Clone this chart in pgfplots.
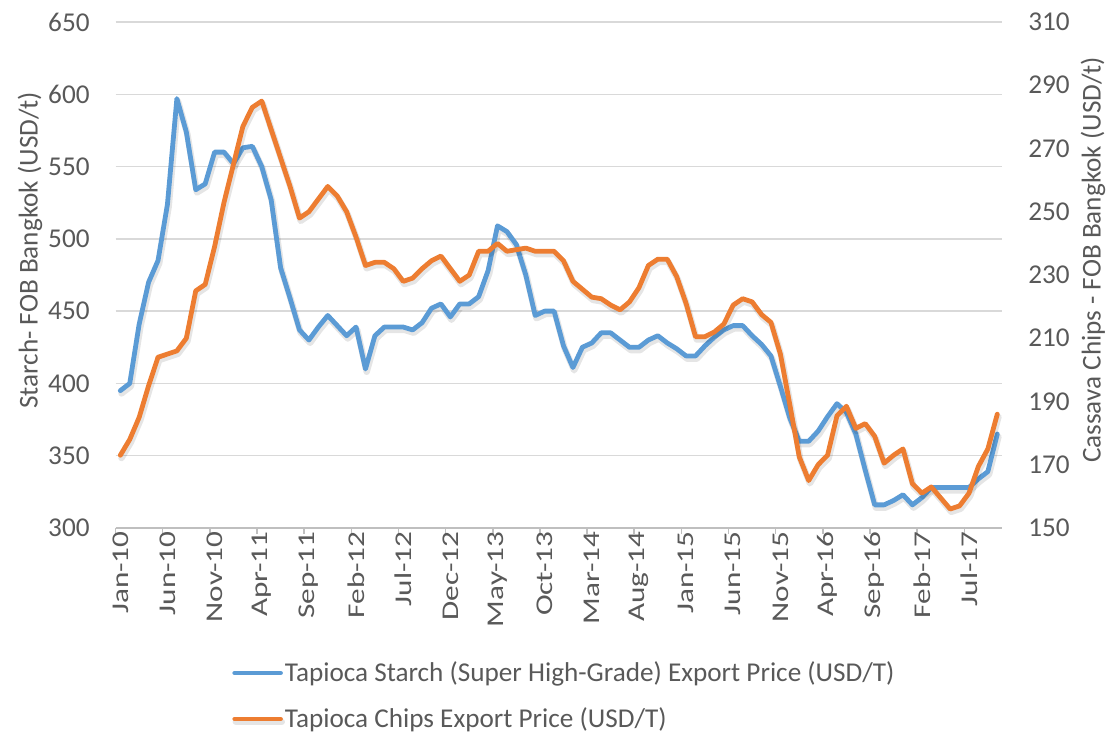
\documentclass[border=0pt]{standalone}
\usepackage{fontspec}
\setmainfont{Carlito}
\newfontfamily\xtickfont[FakeStretch=1.3]{Carlito}
\usepackage{pgfplots}
\usepackage{pgfplotstable}
\pgfplotsset{compat=1.18}
\definecolor{sblue}{HTML}{5B9BD5}
\definecolor{sorange}{HTML}{ED7D31}
\definecolor{txt}{HTML}{595959}
\definecolor{gridc}{HTML}{D9D9D9}
\definecolor{axc}{HTML}{BFBFBF}

\pgfplotstableread{
i starch chips
0 395 173
1 400 178
2 441 185
3 470 195
4 485 204
5 524 205
6 597 206
7 574 210
8 534 225
9 538 227
10 560 239
11 560 253
12 552 265
13 563 277
14 564 283
15 550 285
16 527 276
17 480 267
18 459 258
19 437 248
20 430 250
21 439 254
22 447 258
23 440 255
24 433 250
25 439 242
26 410 233
27 433 234
28 439 234
29 439 232
30 439 228
31 437 229
32 442 232
33 452 234.5
34 455 236
35 446 232
36 455 228
37 455 230
38 460 237.5
39 478 237.5
40 509 240
41 505 237.5
42 496 238
43 475 238.5
44 447 237.5
45 450 237.5
46 450 237.5
47 426 234.5
48 411 228
49 425 225.5
50 428 223
51 435 222.5
52 435 220.5
53 430 219
54 425 221.5
55 425 226
56 430 233
57 433 235
58 428 235
59 424 229.5
60 419 221
61 419 210.5
62 426 210.5
63 432 212
64 437 214.5
65 440 220.5
66 440 222.5
67 433 221.5
68 427 217.5
69 419 215
70 398 205
71 376 189
72 360 172.5
73 360 165
74 367 170
75 377 173
76 386 185.5
77 380 188.5
78 365 181.5
79 340 183
80 316 179
81 316 170.5
82 319 173
83 323 175
84 316 164
85 321 161
86 328 163
87 328 159.5
88 328 156
89 328 157
90 328 161
91 334 169.5
92 339 175
93 365 186
}\data

\pgfplotsset{
  base/.style={
    scale only axis, width=443.2bp, height=253bp,
    xmin=-0.5, xmax=93.5,
    font=\fontsize{13.6bp}{16bp}\selectfont,
    /pgf/number format/assume math mode=true,
    tick label style={text=txt},
    label style={text=txt},
  },
  sline/.style={line width=2.4bp, line join=round, line cap=round},
  shadowed/.style={preaction={draw=black, draw opacity=0.10, line width=3.2bp, line join=round,
      transform canvas={shift={(0.6bp,-1.4bp)}}}},
}

\begin{document}
\begin{tikzpicture}
\begin{axis}[base,
  ymin=300, ymax=650, ytick={300,350,...,650},
  axis x line*=bottom, axis y line*=left,
  y axis line style={draw=none},
  x axis line style={draw=axc, line width=0.75bp},
  ymajorgrids, grid style={draw=gridc, line width=0.75bp},
  major tick length=0pt,
  xtick={0,5,...,90},
  xticklabels={Jan-10,Jun-10,Nov-10,Apr-11,Sep-11,Feb-12,Jul-12,Dec-12,May-13,Oct-13,Mar-14,Aug-14,Jan-15,Jun-15,Nov-15,Apr-16,Sep-16,Feb-17,Jul-17},
  minor xtick={-0.5,4.5,...,89.5},
  minor tick length=3bp, tick align=outside,
  minor tick style={draw=axc, line width=0.75bp},
  xticklabel style={yshift=-1.5bp, rotate=90, anchor=east, inner sep=0pt,
    font=\xtickfont\fontsize{12bp}{14bp}\selectfont},
  yticklabel style={anchor=east, inner sep=0pt, xshift=-12.8bp},
  ylabel={Starch- FOB Bangkok (USD/t)},
  ylabel style={at={([xshift=-42.8bp]rel axis cs:0,0.549)}, anchor=center, rotate=0},
]
\addplot[sline, sblue, shadowed] table[x=i, y=starch] {\data};
\end{axis}
\begin{axis}[base,
  ymin=150, ymax=310, ytick={150,170,...,310},
  axis y line*=right, axis x line=none,
  y axis line style={draw=none},
  major tick length=0pt,
  yticklabel style={anchor=west, inner sep=0pt, xshift=13bp},
  ylabel={Cassava Chips - FOB Bangkok (USD/t)},
  ylabel style={at={([xshift=45.5bp]rel axis cs:1,0.53)}, anchor=center},
  legend style={at={(rel axis cs:0.1313,-0.332)}, anchor=west, draw=none, fill=none,
    inner xsep=0pt, inner ysep=0pt, row sep=11.5bp,
    nodes={inner xsep=1bp, inner ysep=0pt, text=txt}},
  legend cell align=left,
  legend image code/.code={\draw[#1, line width=2.25bp, line cap=round] (0bp,0bp) -- (23bp,0bp);},
]
\addlegendimage{sline, sblue}
\addlegendentry{Tapioca Starch (Super High-Grade) Export Price (USD/T)}
\addplot[sline, sorange, shadowed] table[x=i, y=chips] {\data};
\addlegendentry{Tapioca Chips Export Price (USD/T)}
\end{axis}
\pgfresetboundingbox
\path[use as bounding box] ([shift={(-57.8bp,-104bp)}]current axis.south west) rectangle ++(554bp,368bp);
\end{tikzpicture}
\end{document}
